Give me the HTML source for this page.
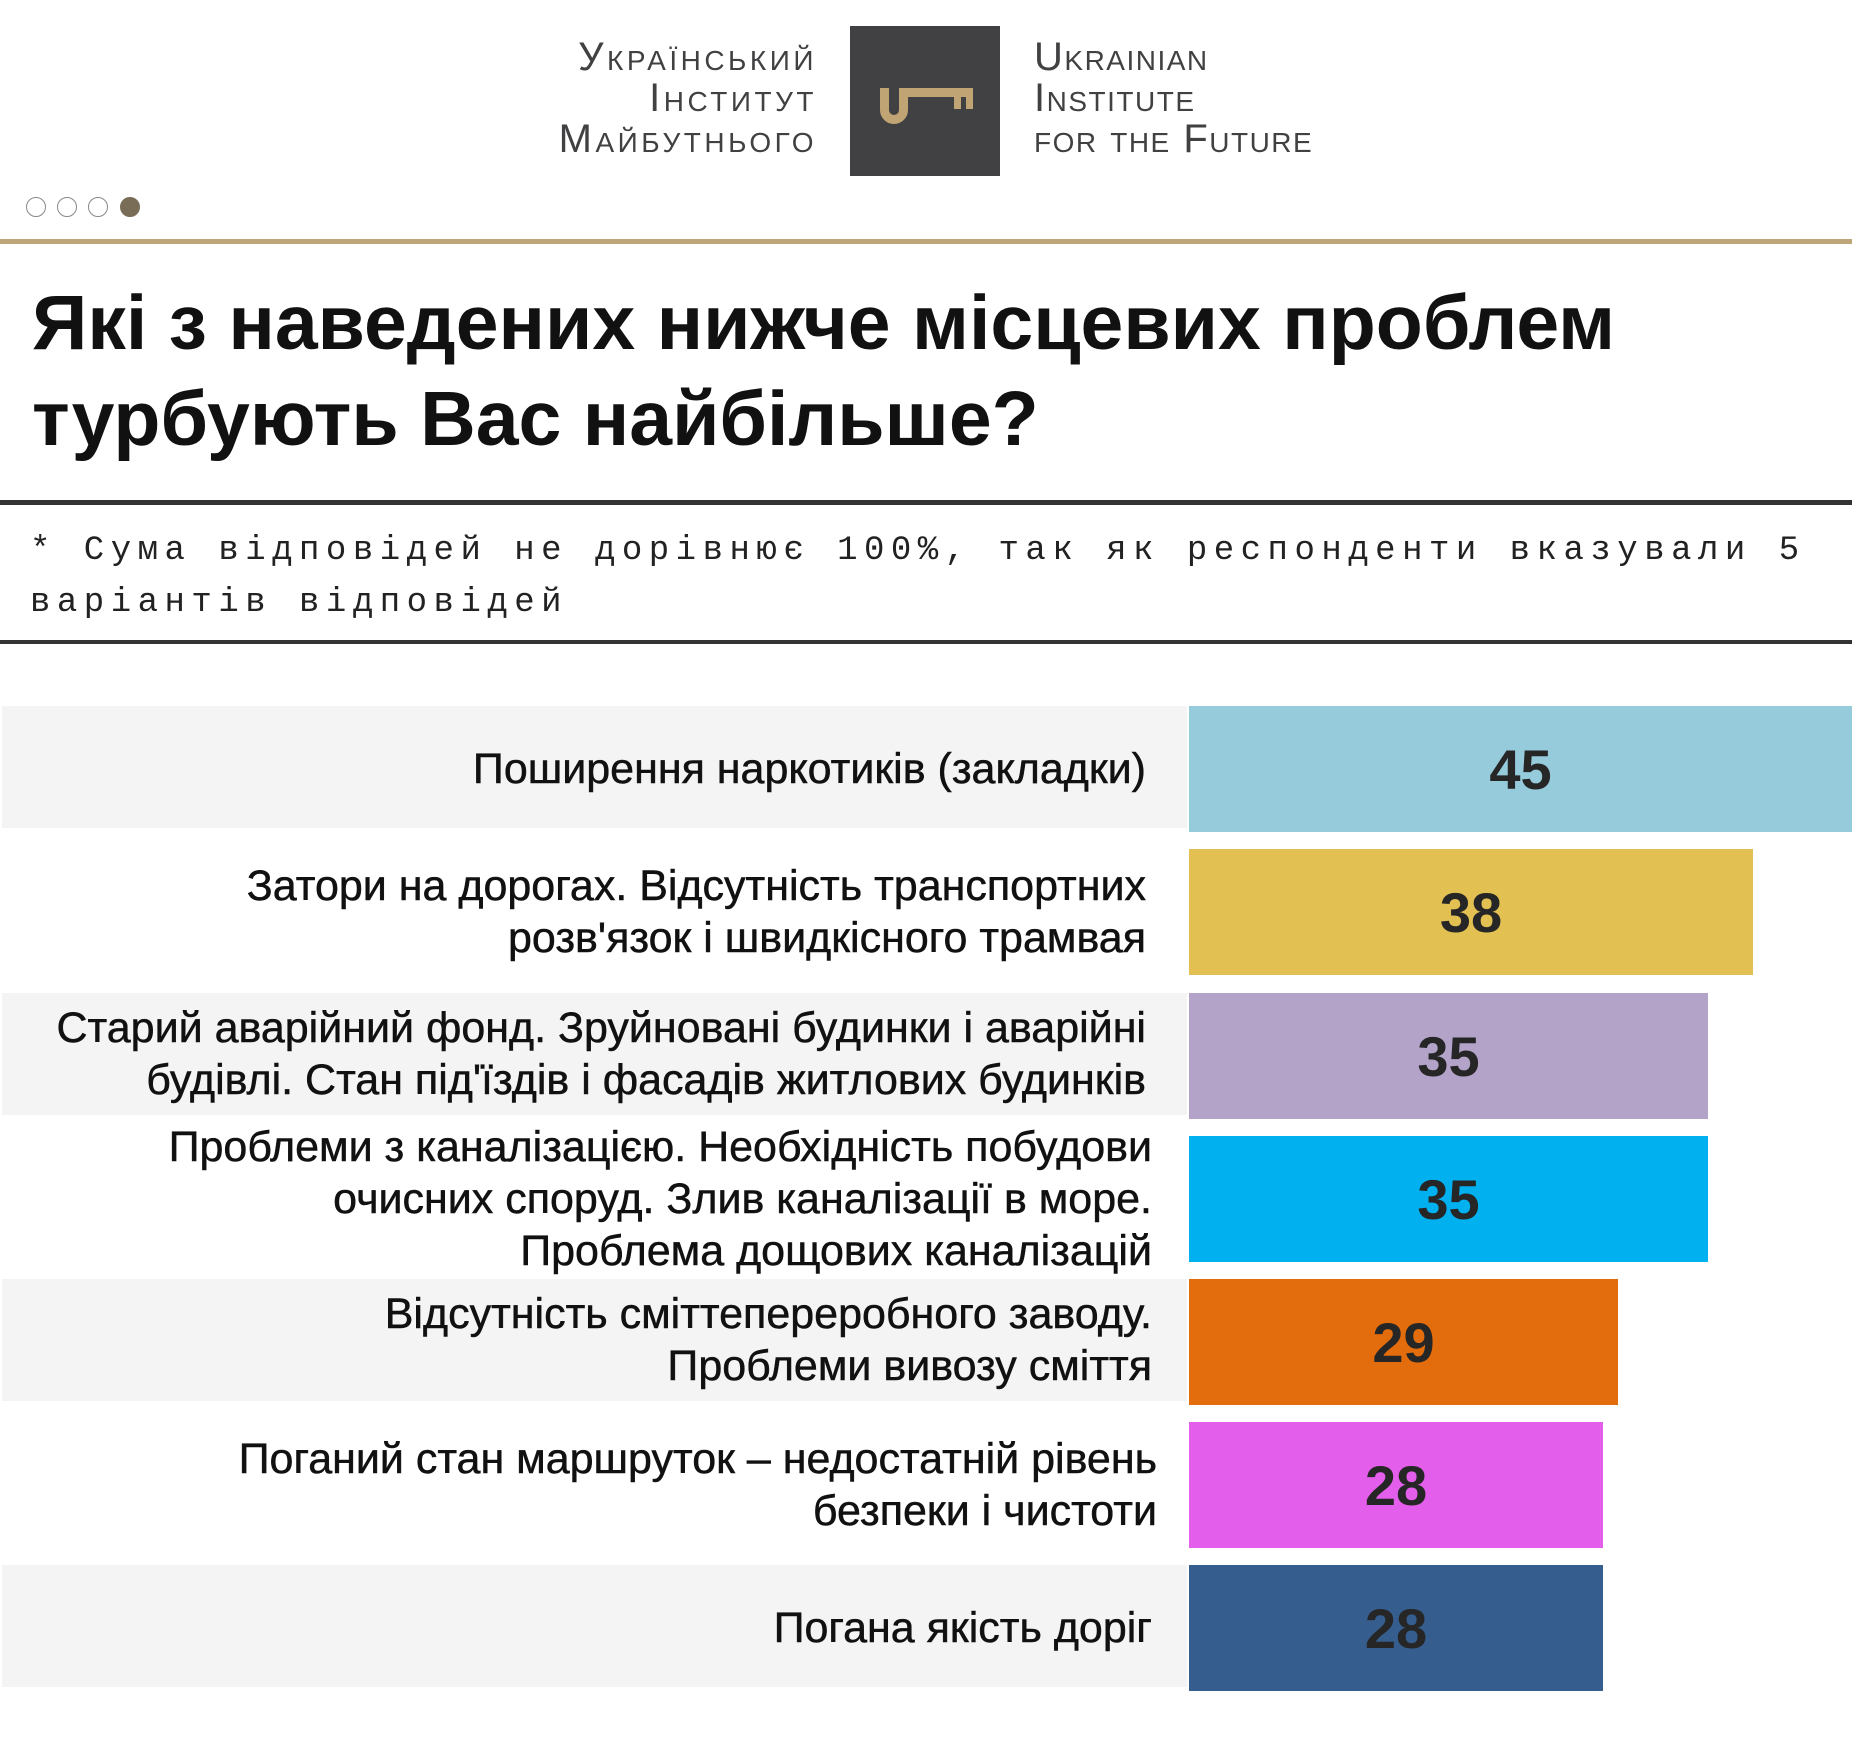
<!DOCTYPE html>
<html><head><meta charset="utf-8"><style>
*{margin:0;padding:0;box-sizing:border-box}
body{width:1852px;height:1739px;background:#fff;position:relative;overflow:hidden;font-family:"Liberation Sans","DejaVu Sans",sans-serif;color:#111}
.a{position:absolute}
.logo{font-variant:small-caps;font-size:40px;color:#414042;letter-spacing:1.5px;line-height:41px;font-family:"Liberation Sans",sans-serif}
.dot{position:absolute;top:197px;width:20px;height:20px;border-radius:50%;border:1.5px solid #888;background:#fff}
.row{position:absolute;left:2px;width:1185px;height:122px}
.g{background:#f4f4f4}
.lab{position:absolute;right:0;width:1180px;text-align:right;font-size:43px;line-height:52px;color:#111;-webkit-text-stroke:0.5px #111;display:flex;align-items:center;justify-content:flex-end;white-space:nowrap}
.bar{position:absolute;left:1189px;height:126px;display:flex;align-items:center;justify-content:center;font-size:56px;font-weight:bold;color:#262626}
</style></head><body>
<div class="a logo" style="right:1035px;top:37px;text-align:right;letter-spacing:3.5px">Український<br>Інститут<br>Майбутнього</div>
<div class="a" style="left:850px;top:26px;width:150px;height:150px;background:#414042">
<svg width="150" height="150" viewBox="0 0 150 150"><g fill="#c0a473">
<path d="M34.5 62V84a9.5 9.5 0 0 0 19 0V66.5" fill="none" stroke="#c0a473" stroke-width="9"/>
<rect x="49" y="62" width="74" height="9"/><rect x="104" y="71" width="7" height="12"/><rect x="116" y="71" width="7" height="12"/></g></svg></div>
<div class="a logo" style="left:1034px;top:37px">Ukrainian<br>Institute<br>for the Future</div>
<div class="dot" style="left:26px"></div><div class="dot" style="left:57px"></div><div class="dot" style="left:88px"></div>
<div class="dot" style="left:120px;background:#7a6d58;border-color:#7a6d58"></div>
<div class="a" style="left:0;top:239px;width:1852px;height:5px;background:#bfa57a"></div>
<div class="a" style="left:32px;top:275px;font-size:77px;font-weight:bold;line-height:96px;color:#111">Які з наведених нижче місцевих проблем<br>турбують Вас найбільше?</div>
<div class="a" style="left:0;top:500px;width:1852px;height:5px;background:#333"></div>
<div class="a" style="left:30px;top:525px;font-family:'Liberation Mono',monospace;font-size:34px;letter-spacing:6.5px;line-height:52px;color:#222">* Сума відповідей не дорівнює 100%, так як респонденти вказували 5<br>варіантів відповідей</div>
<div class="a" style="left:0;top:640px;width:1852px;height:4px;background:#333"></div>

<div class="row g" style="top:706px"></div>
<div class="row" style="top:849px"></div>
<div class="row g" style="top:993px"></div>
<div class="row" style="top:1136px"></div>
<div class="row g" style="top:1279px"></div>
<div class="row" style="top:1422px"></div>
<div class="row g" style="top:1565px"></div>

<div class="lab" style="top:706px;height:126px;right:706px">Поширення наркотиків (закладки)</div>
<div class="lab" style="top:849px;height:126px;right:706px">Затори на дорогах. Відсутність транспортних<br>розв'язок і швидкісного трамвая</div>
<div class="lab" style="top:993px;height:122px;right:706px">Старий аварійний фонд. Зруйновані будинки і аварійні<br>будівлі. Стан під'їздів і фасадів житлових будинків</div>
<div class="lab" style="top:1136px;height:126px;right:700px">Проблеми з каналізацією. Необхідність побудови<br>очисних споруд. Злив каналізації в море.<br>Проблема дощових каналізацій</div>
<div class="lab" style="top:1279px;height:122px;right:700px">Відсутність сміттепереробного заводу.<br>Проблеми вивозу сміття</div>
<div class="lab" style="top:1422px;height:126px;right:695px">Поганий стан маршруток – недостатній рівень<br>безпеки і чистоти</div>
<div class="lab" style="top:1565px;height:126px;right:700px">Погана якість доріг</div>

<div class="bar" style="top:706px;width:663px;background:#96cbdc">45</div>
<div class="bar" style="top:849px;width:564px;background:#e2c052">38</div>
<div class="bar" style="top:993px;width:519px;background:#b3a3c9">35</div>
<div class="bar" style="top:1136px;width:519px;background:#00b0ef">35</div>
<div class="bar" style="top:1279px;width:429px;background:#e36c0c">29</div>
<div class="bar" style="top:1422px;width:414px;background:#e35eea">28</div>
<div class="bar" style="top:1565px;width:414px;background:#355e8f">28</div>
</body></html>
